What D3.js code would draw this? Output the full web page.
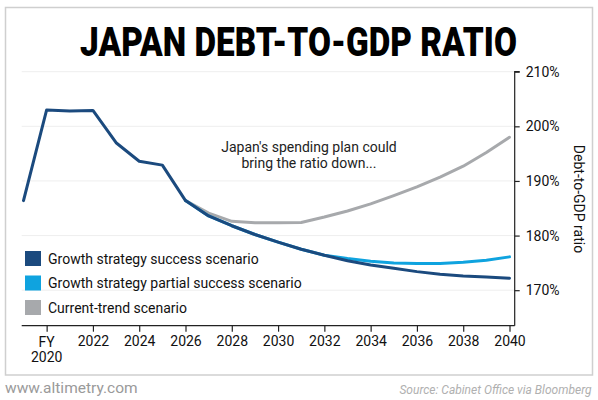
<!DOCTYPE html>
<html>
<head>
<meta charset="utf-8">
<script src="https://cdn.jsdelivr.net/npm/d3@7"></script>
<style>
  html, body { margin: 0; padding: 0; background: #fff; }
  svg { display: block; }
  text { font-family: Roboto, "Liberation Sans", sans-serif; }
</style>
</head>
<body>
<svg id="chart" width="598" height="400"></svg>
<script>
// ---- Data ----
const years = [2019,2020,2021,2022,2023,2024,2025,2026,2027,2028,2029,2030,2031,2032,2033,2034,2035,2036,2037,2038,2039,2040];
const successValues = [186.4,203.0,202.8,202.9,197.0,193.6,192.9,186.4,183.6,181.8,180.2,178.8,177.5,176.4,175.4,174.6,174.0,173.4,172.9,172.6,172.4,172.2];
const projYears = [2026,2027,2028,2029,2030,2031,2032,2033,2034,2035,2036,2037,2038,2039,2040];
const partialValues = [186.4,183.6,181.8,180.2,178.8,177.5,176.4,175.8,175.3,175.0,174.9,174.9,175.1,175.5,176.1];
const currentTrendValues = [186.4,184.1,182.6,182.35,182.35,182.4,183.4,184.5,185.8,187.3,188.9,190.7,192.7,195.2,198.0];
const xTickValues = [2020,2022,2024,2026,2028,2030,2032,2034,2036,2038,2040];
const yTickValues = [170,180,190,200,210];
const legendLabels = ["Growth strategy success scenario","Growth strategy partial success scenario","Current-trend scenario"];
const colors = {success:"#1b4a7e", partial:"#0fa3df", current:"#a7a9ac"};

const svg = d3.select("#chart");

// frame
svg.append("rect").attr("x",5.5).attr("y",7.5).attr("width",587).attr("height",367.5)
  .attr("fill","none").attr("stroke","#cfcfcf").attr("stroke-width",1.5);

// title (condensed horizontally to the reference width)
const title = svg.append("text").attr("x",0).attr("y",0).attr("text-anchor","middle")
  .attr("font-size",40).attr("font-weight",900).attr("fill","#000")
  .text("JAPAN DEBT-TO-GDP RATIO");
const natural = title.node().getComputedTextLength() || 560;
title.attr("transform",`translate(298.5,56) scale(${437/natural},1)`);

const x = d3.scaleLinear().domain([2019,2040]).range([23.5,509.5]);
const y = d3.scaleLinear().domain([163.5,210]).range([325.7,71.7]);
const left = 21.7, right = 514.7;

// gridlines
svg.append("g").selectAll("line").data(yTickValues).join("line")
  .attr("x1",left).attr("x2",right)
  .attr("y1",d=>y(d)).attr("y2",d=>y(d))
  .attr("stroke","#eeeeee").attr("stroke-width",1);

// x axis
const xAxis = d3.axisBottom(x).tickValues(xTickValues).tickSize(6).tickPadding(4).tickFormat(d => d===2020 ? "" : d);
const gx = svg.append("g").attr("transform",`translate(0,${y.range()[0]})`).call(xAxis);
gx.select(".domain").remove();
gx.selectAll(".tick line").attr("stroke","#222").attr("stroke-width",1.2);
gx.selectAll(".tick text").attr("font-size",14).attr("fill","#111")
  .attr("font-family","Roboto, sans-serif");
svg.append("line").attr("x1",left).attr("x2",right).attr("y1",y.range()[0]).attr("y2",y.range()[0])
  .attr("stroke","#222").attr("stroke-width",1.2);
// FY 2020 two-line label
const fy = svg.append("text").attr("x",x(2020)).attr("text-anchor","middle")
  .attr("font-size",14).attr("fill","#111");
fy.append("tspan").attr("x",x(2020)).attr("y",346.5).text("FY");
fy.append("tspan").attr("x",x(2020)).attr("y",361.5).text("2020");

// y axis (right)
const yAxis = d3.axisRight(y).tickValues(yTickValues).tickSize(5).tickPadding(6).tickFormat(d => d + "%");
const gy = svg.append("g").attr("transform",`translate(${right},0)`).call(yAxis);
gy.select(".domain").attr("d",`M5,${y(210)}H0V${y.range()[0]}`).attr("stroke","#222").attr("stroke-width",1.2);
gy.selectAll(".tick line").attr("stroke","#222").attr("stroke-width",1.2);
gy.selectAll(".tick text").attr("font-size",14).attr("fill","#111").attr("font-family","Roboto, sans-serif");

svg.append("text").attr("transform","translate(574,199) rotate(90)").attr("text-anchor","middle")
  .attr("font-size",14).attr("fill","#111").text("Debt-to-GDP ratio");

// lines
const line = d3.line().x(d=>x(d[0])).y(d=>y(d[1]));
const drawLine = (xs, vs, color) => svg.append("path")
  .datum(xs.map((yr,i)=>[yr,vs[i]]))
  .attr("d",line).attr("fill","none").attr("stroke",color)
  .attr("stroke-width",3).attr("stroke-linejoin","round").attr("stroke-linecap","round");
drawLine(projYears, currentTrendValues, colors.current);
drawLine(projYears, partialValues, colors.partial);
drawLine(years, successValues, colors.success);

// annotation
const ann = svg.append("text").attr("text-anchor","middle").attr("font-size",14).attr("fill","#222");
ann.append("tspan").attr("x",309).attr("y",152).text("Japan's spending plan could");
ann.append("tspan").attr("x",309).attr("y",168).text("bring the ratio down...");

// legend
const legendColors = [colors.success, colors.partial, colors.current];
const lg = svg.append("g");
legendLabels.forEach((lab,i)=>{
  const yy = 251 + i*24.5;
  lg.append("rect").attr("x",25).attr("y",yy).attr("width",16).attr("height",15).attr("fill",legendColors[i]);
  lg.append("text").attr("x",48).attr("y",yy+12.5).attr("font-size",14).attr("fill","#111").text(lab);
});

// footer
svg.append("text").attr("x",5).attr("y",392.5).attr("font-size",15.5).attr("fill","#9a9a9a").text("www.altimetry.com");
svg.append("text").attr("x",591.5).attr("y",394).attr("text-anchor","end").attr("font-size",12)
  .attr("font-style","italic").attr("fill","#b0b0b0").text("Source: Cabinet Office via Bloomberg");
</script>
</body>
</html>
